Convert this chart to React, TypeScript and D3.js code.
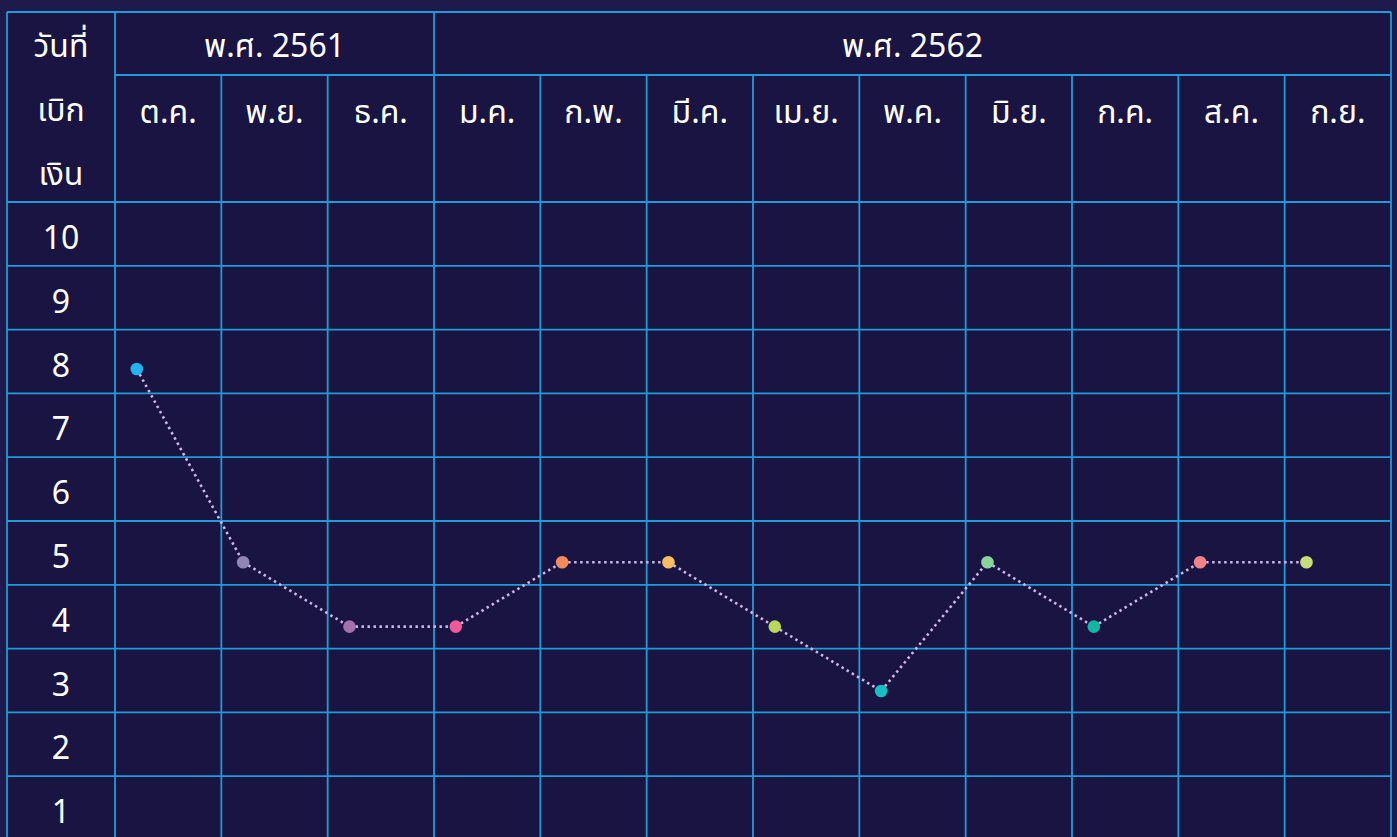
import React from "react";
import * as d3 from "d3";

const months = ["ต.ค.", "พ.ย.", "ธ.ค.", "ม.ค.", "ก.พ.", "มี.ค.", "เม.ย.", "พ.ค.", "มิ.ย.", "ก.ค.", "ส.ค.", "ก.ย."];
const values = [8, 5, 4, 4, 5, 5, 4, 3, 5, 4, 5, 5];
const pointColors = ["#22b4ee", "#8f86b5", "#a471ad", "#f0589c", "#f28a5a", "#f8be63", "#b9d85a", "#15c0c4", "#8ad39a", "#12b7a2", "#f2828a", "#c8dc78"];
const years = [
  { label: "พ.ศ. 2561", from: 0, to: 3 },
  { label: "พ.ศ. 2562", from: 3, to: 12 },
];
const rowTicks = [10, 9, 8, 7, 6, 5, 4, 3, 2, 1];
const headerLines = ["วันที่", "เบิก", "เงิน"];

const W = 1397;
const H = 837;
const left = 7;
const colStart = 115;
const right = 1391;
const top = 12;
const headerMid = 75;
const headerBottom = 202;
const rowH = 63.8;

const FONT = "'Noto Sans Thai', 'Kanit', 'Tahoma', 'Noto Sans', 'DejaVu Sans', sans-serif";
const GRID = "#1e9cd8";
const FS = 32;

export default function App() {
  const x = d3.scaleBand<string>().domain(months).range([colStart, right]).paddingInner(0).paddingOuter(0);
  const rowBand = d3.scaleBand<number>().domain(rowTicks).range([headerBottom, headerBottom + rowH * rowTicks.length]);
  const y = d3.scaleLinear().domain([10, 1]).range([240.2, 819.8]);
  const px = (m: string) => (x(m) as number) + x.bandwidth() * 0.205;

  const pts = months.map((m, i) => ({ m, v: values[i], c: pointColors[i], x: px(m), y: y(values[i]) }));

  const colBounds = months.map((m) => x(m) as number).concat([right]);

  return (
    <svg width={W} height={H} style={{ position: "absolute", left: 0, top: 0, display: "block" }} fontFamily={FONT}>
      <rect x={0} y={0} width={W} height={H} fill="#1e1a4b" />
      <rect x={left} y={top} width={right - left} height={H - top} fill="#1a1442" />

      {/* horizontal lines */}
      <line x1={left} x2={right} y1={top} y2={top} stroke={GRID} strokeWidth={1.8} />
      <line x1={colStart} x2={right} y1={headerMid} y2={headerMid} stroke={GRID} strokeWidth={1.8} />
      {rowTicks.map((t) => (
        <line key={"h" + t} x1={left} x2={right} y1={rowBand(t) as number} y2={rowBand(t) as number} stroke={GRID} strokeWidth={1.8} />
      ))}

      {/* vertical lines */}
      <line x1={left} x2={left} y1={top} y2={H} stroke={GRID} strokeWidth={1.8} />
      <line x1={right} x2={right} y1={top} y2={H} stroke={GRID} strokeWidth={1.8} />
      {colBounds.slice(0, -1).map((cx, i) => (
        <line
          key={"v" + i}
          x1={cx}
          x2={cx}
          y1={i === 0 || i === 3 ? top : headerMid}
          y2={H}
          stroke={GRID}
          strokeWidth={1.8}
        />
      ))}

      {/* header */}
      {headerLines.map((t, i) => (
        <text key={t} x={(left + colStart) / 2} y={57 + i * 64} textAnchor="middle" fill="#ffffff" fontSize={FS}>
          {t}
        </text>
      ))}
      {years.map((yr) => {
        const x0 = colBounds[yr.from];
        const x1 = colBounds[yr.to];
        return (
          <text key={yr.label} x={(x0 + x1) / 2} y={57} textAnchor="middle" fill="#ffffff" fontSize={FS}>
            {yr.label}
          </text>
        );
      })}
      {months.map((m) => (
        <text key={m} x={(x(m) as number) + x.bandwidth() / 2} y={123} textAnchor="middle" fill="#ffffff" fontSize={FS}>
          {m}
        </text>
      ))}

      {/* row labels */}
      {rowTicks.map((t) => (
        <text
          key={"r" + t}
          x={(left + colStart) / 2}
          y={(rowBand(t) as number) + rowBand.bandwidth() / 2 + 15}
          textAnchor="middle"
          fill="#ffffff"
          fontSize={FS}
        >
          {t}
        </text>
      ))}

      {/* dotted connecting line */}
      {pts.slice(1).map((p, i) => (
        <line
          key={"s" + i}
          x1={pts[i].x}
          y1={pts[i].y}
          x2={p.x}
          y2={p.y}
          stroke="#ccb6e4"
          strokeWidth={2.6}
          strokeDasharray="2.5 3.5"
        />
      ))}

      {/* points */}
      {pts.map((p) => (
        <circle key={"p" + p.m} cx={p.x} cy={p.y} r={6.3} fill={p.c} />
      ))}
    </svg>
  );
}
